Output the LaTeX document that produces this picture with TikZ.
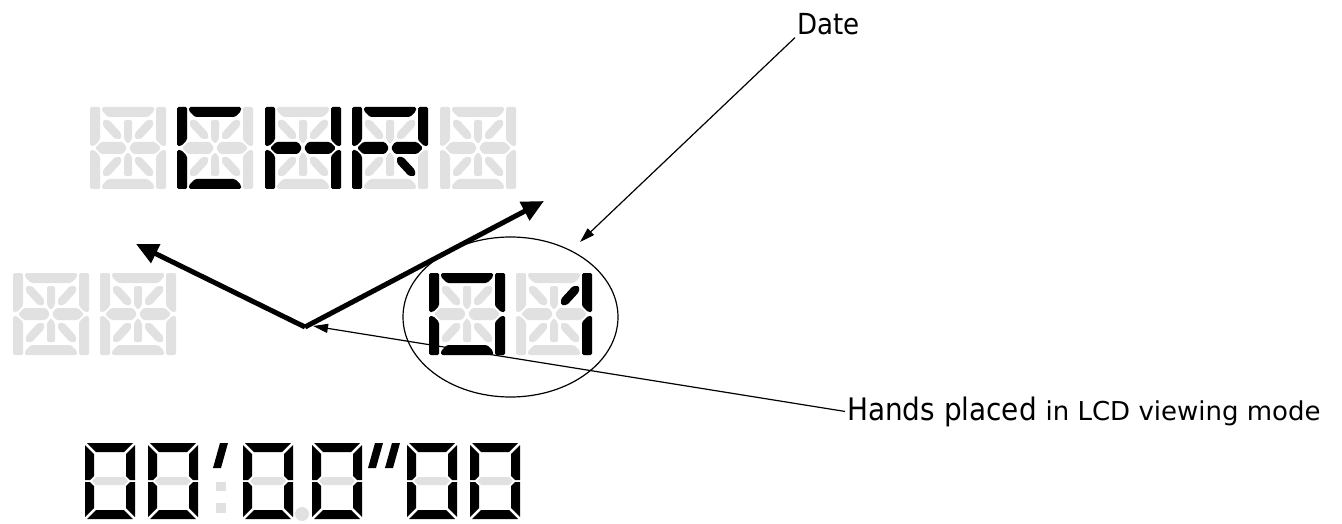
\documentclass[tikz,border=0pt]{standalone}
\usepackage{fontspec}
\setmainfont{DejaVu Sans Condensed}
\newfontfamily\widefont{DejaVu Sans}
\usepackage{tikz}
\usetikzlibrary{arrows.meta}
\usetikzlibrary{shapes.geometric}
\definecolor{lcdoff}{RGB}{225,225,225}

% segments of one 14 segment cell (76 x 82)
\def\lcdnone{}
\def\lcdtop{(12,0) -- (64,0) -- (64,4) -- (58,10) -- (18,10) -- (12,4) -- cycle}
\def\lcdbot{(12,82) -- (64,82) -- (64,78) -- (58,72) -- (18,72) -- (12,78) -- cycle}
\def\lcdul{(0,0) -- (10,0) -- (10,33) -- (4,39) -- (0,39) -- cycle}
\def\lcdll{(0,43) -- (4,43) -- (10,49) -- (10,82) -- (0,82) -- cycle}
\def\lcdur{(66,0) -- (76,0) -- (76,39) -- (72,39) -- (66,33) -- cycle}
\def\lcdlr{(72,43) -- (76,43) -- (76,82) -- (66,82) -- (66,49) -- cycle}
\def\lcdml{(5,41) -- (11,35) -- (33,35) -- (37,41) -- (33,47) -- (11,47) -- cycle}
\def\lcdmr{(39,41) -- (43,35) -- (65,35) -- (71,41) -- (65,47) -- (43,47) -- cycle}
\def\lcdvu{(34,13) -- (42,13) -- (42,32) -- (38,37) -- (34,32) -- cycle}
\def\lcdvd{(34,69) -- (42,69) -- (42,50) -- (38,45) -- (34,50) -- cycle}
\def\lcddul{(13,13) -- (19,13) -- (31,26) -- (31,32) -- (25,32) -- (13,19) -- cycle}
\def\lcddur{(63,13) -- (57,13) -- (45,26) -- (45,32) -- (51,32) -- (63,19) -- cycle}
\def\lcddll{(13,69) -- (19,69) -- (31,56) -- (31,50) -- (25,50) -- (13,63) -- cycle}
\def\lcddlr{(63,69) -- (57,69) -- (45,56) -- (45,50) -- (51,50) -- (63,63) -- cycle}

% segments of one 7 segment cell (50 x 76)
\def\clktop{(2,0) -- (48,0) -- (39,9) -- (11,9) -- cycle}
\def\clkbot{(2,76) -- (48,76) -- (39,67) -- (11,67) -- cycle}
\def\clkul{(0,2) -- (9,11) -- (9,33) -- (5,37) -- (0,37) -- cycle}
\def\clkll{(0,39) -- (5,39) -- (9,43) -- (9,65) -- (0,74) -- cycle}
\def\clkur{(50,2) -- (50,37) -- (45,37) -- (41,33) -- (41,11) -- cycle}
\def\clklr{(50,39) -- (50,74) -- (41,65) -- (41,43) -- (45,39) -- cycle}
\def\clkmid{(7,38) -- (11,34) -- (39,34) -- (43,38) -- (39,42) -- (11,42) -- cycle}

\newcommand{\alnumcell}[3]{%
  \begin{scope}[shift={(#1,#2)}]
    \foreach \s in {top,bot,ul,ll,ur,lr,ml,mr,vu,vd,dul,dur,dll,dlr}
      {\fill[lcdoff,lcdseg] \csname lcd\s\endcsname;}
    \foreach \s in {#3}
      {\fill[black,lcdseg] \csname lcd\s\endcsname;}
  \end{scope}}

\newcommand{\zerocell}[2]{%
  \begin{scope}[shift={(#1,#2)}]
    \fill[black] \clktop; \fill[black] \clkbot;
    \fill[black] \clkul; \fill[black] \clkll;
    \fill[black] \clkur; \fill[black] \clklr;
    \fill[lcdoff] \clkmid;
  \end{scope}}

\begin{document}
\begin{tikzpicture}[x=1pt,y=-1pt]
\tikzstyle{lcdseg}=[rounded corners=1.5pt]
\tikzstyle{hand}=[line width=5pt,-{Triangle[length=22pt,width=20pt]}]
\tikzstyle{callout}=[line width=1.2pt,-{Triangle[length=15pt,width=9pt]}]
\useasboundingbox (0,0) rectangle (1342,524);

% upper line: CHR
\alnumcell{90}{107}{none}
\alnumcell{177}{107}{top,bot,ul,ll}
\alnumcell{265}{107}{ul,ll,ur,lr,ml,mr}
\alnumcell{352}{107}{top,ul,ll,ur,ml,mr,dlr}
\alnumcell{440}{107}{none}

% middle line: date 01
\alnumcell{13}{273}{none}
\alnumcell{100}{273}{none}
\alnumcell{429}{273}{top,bot,ul,ll,ur,lr}
\alnumcell{516}{273}{ur,lr,dur}

% lower line: 00'00"00
\foreach \x in {85,148,243,312,407,470} {\zerocell{\x}{443}}
\fill[lcdoff] (216,482) rectangle (226,491);
\fill[lcdoff] (216,503) rectangle (226,513);
\fill[lcdoff] (302,514) circle (7);
\fill (220,443) -- (228,443) -- (221,468) -- (213,468) -- cycle;
\fill (375,443) -- (383,443) -- (376,468) -- (368,468) -- cycle;
\fill (392,443) -- (400,443) -- (393,468) -- (385,468) -- cycle;

% ring round the date
\node (ring) [ellipse,draw,line width=1.2pt,minimum width=215pt,minimum height=160pt,inner sep=0pt] at (510.5,317) {};

% hands
\coordinate (hub) at (305,327);
\coordinate (hourtip) at (136,244);
\coordinate (mintip) at (544,201);
\draw[hand] (hub) -- (hourtip);
\draw[hand] (hub) -- (mintip);

% labels
\node (date) [anchor=base west,inner sep=2pt,font=\fontsize{29}{34}\selectfont] at (795,35) {Date};
\node (hands) [anchor=base west,inner sep=2pt,font=\fontsize{31}{36}\selectfont] at (845,420) {Hands placed {\widefont\fontsize{26}{30}\selectfont in LCD viewing mode}};
\coordinate (datetip) at (580,242);
\coordinate (handtip) at (313,326);
\draw[callout] (date.south west) -- (datetip);
\draw[callout] (hands.west) -- (handtip);

\end{tikzpicture}
\end{document}
